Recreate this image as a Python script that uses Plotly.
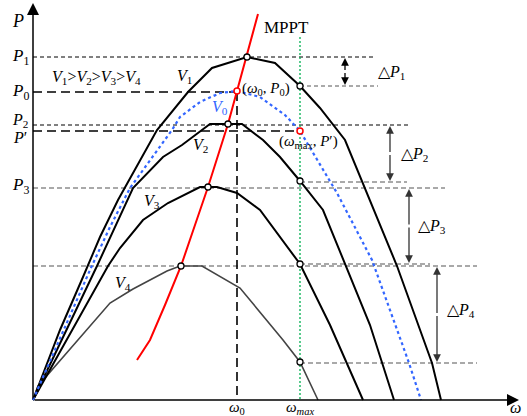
import plotly.graph_objects as go

# Coordinates: omega = horizontal position, power = vertical position (schematic units)
def W(px): return px - 33
def Pw(py): return 400 - py

# Curve vertices (schematic units)
v1_w = [W(x) for x in [33, 60, 83, 100, 118, 157, 188, 212, 247, 275, 300, 320, 345, 370, 397, 432, 441]]
v1_p = [Pw(y) for y in [400, 330, 277, 237, 200, 130, 92, 68, 57, 63, 86, 108, 140, 200, 266, 363, 400]]

v0_w = [W(x) for x in [33, 90, 110, 130, 172, 180, 200, 220, 237, 260, 285, 300, 337, 372, 409, 421]]
v0_p = [Pw(y) for y in [400, 270, 227, 188, 130, 117, 102, 93, 91, 97, 115, 131, 193, 260, 363, 400]]

v2_w = [W(x) for x in [33, 97, 133, 163, 182, 210, 242, 263, 280, 300, 323, 370, 394]]
v2_p = [Pw(y) for y in [400, 266, 188, 157, 145, 124, 124, 140, 157, 181, 210, 325, 400]]

v3_w = [W(x) for x in [33, 108, 120, 143, 168, 200, 217, 237, 260, 300, 330, 363]]
v3_p = [Pw(y) for y in [400, 266, 248, 220, 203, 187, 187, 193, 210, 264, 325, 400]]

v4_w = [W(x) for x in [33, 38, 110, 133, 167, 180, 202, 240, 283, 300, 318]]
v4_p = [Pw(y) for y in [400, 386, 303, 289, 271, 266, 266, 288, 340, 362, 400]]

mppt_w = [W(x) for x in [137, 150, 165, 181, 195, 208, 228, 237, 247, 258]]
mppt_p = [Pw(y) for y in [360, 340, 305, 266, 225, 187, 124, 91, 57, 14]]

peak_w = [W(x) for x in [247, 228, 208, 181]]
peak_p = [Pw(y) for y in [57, 124, 187, 266]]
wmax_pt_w = [W(x) for x in [300, 300, 300, 300]]
wmax_pt_p = [Pw(y) for y in [86, 181, 264, 362]]
red_w = [W(237), W(300)]
red_p = [Pw(91), Pw(131)]

w0 = W(237)
wmax = W(300)
P1, P0, P2, Pp, P3, P4 = Pw(57), Pw(92), Pw(125), Pw(131), Pw(188), Pw(266)

BLACK = "#000000"
GRAY = "#555555"
SERIF = "Liberation Serif, Times New Roman, serif"

fig = go.Figure()

def line(xs, ys, color, width, dash="solid"):
    fig.add_trace(go.Scatter(x=xs, y=ys, mode="lines", line=dict(color=color, width=width, dash=dash),
                             hoverinfo="skip", showlegend=False))

# Horizontal guide lines
line([0, W(375)], [P1, P1], BLACK, 1, "4px,3px")
line([wmax, W(378)], [Pw(86), Pw(86)], GRAY, 1, "4px,3px")
line([0, w0], [P0, P0], BLACK, 1.6, "9px,5px")
line([0, W(408)], [P2, P2], BLACK, 1, "4px,3px")
line([0, wmax], [Pp, Pp], BLACK, 1.6, "9px,5px")
line([wmax, W(407)], [Pw(182), Pw(182)], GRAY, 1, "5px,3px")
line([0, W(445)], [P3, P3], GRAY, 1.2, "5px,3px")
line([wmax, W(430)], [Pw(264), Pw(264)], GRAY, 1.2, "5px,3px")
line([0, W(477)], [P4, P4], GRAY, 1.2, "5px,3px")
line([wmax, W(477)], [Pw(363), Pw(363)], GRAY, 1.2, "5px,3px")

# Vertical guide lines
line([w0, w0], [P0, 0], BLACK, 1.6, "9px,5px")
line([wmax, wmax], [Pw(37), 0], "#00b050", 1.3, "2px,2px")

# Curves
line(v4_w, v4_p, "#444444", 1.6)
line(v3_w, v3_p, BLACK, 2)
line(v2_w, v2_p, BLACK, 2)
line(v1_w, v1_p, BLACK, 2)
line(v0_w, v0_p, "#3366ff", 2.2, "dot")
line(mppt_w, mppt_p, "#ff0000", 2)

# Markers
fig.add_trace(go.Scatter(x=peak_w + wmax_pt_w, y=peak_p + wmax_pt_p, mode="markers",
                         marker=dict(size=6, color="white", line=dict(color=BLACK, width=1.3)),
                         hoverinfo="skip", showlegend=False))
fig.add_trace(go.Scatter(x=red_w, y=red_p, mode="markers",
                         marker=dict(size=6, color="white", line=dict(color="#ff0000", width=1.5)),
                         hoverinfo="skip", showlegend=False))

ann = []
def txt(x, y, s, size=15, color=BLACK, xanchor="center"):
    ann.append(dict(x=x, y=y, xref="x", yref="y", text=s, showarrow=False,
                    font=dict(family=SERIF, size=size, color=color), xanchor=xanchor, yanchor="middle"))

def arrow(x, y0, y1, color=BLACK):
    # double-headed vertical arrow
    for a, b in [(y0, y1), (y1, y0)]:
        ann.append(dict(x=x, y=b, ax=x, ay=(a + b) / 2, xref="x", yref="y", axref="x", ayref="y",
                        text="", showarrow=True, arrowhead=2, arrowsize=1.2, arrowwidth=1.3,
                        arrowcolor=color, standoff=0, startstandoff=0, font=dict(size=10)))

# Axes with arrows
ann.append(dict(x=W(519), y=0, ax=W(33), ay=0, xref="x", yref="y", axref="x", ayref="y", text="",
                showarrow=True, arrowhead=2, arrowsize=1.6, arrowwidth=1.5, arrowcolor=BLACK, font=dict(size=10)))
ann.append(dict(x=0, y=Pw(3), ax=0, ay=0, xref="x", yref="y", axref="x", ayref="y", text="",
                showarrow=True, arrowhead=2, arrowsize=1.6, arrowwidth=1.5, arrowcolor=BLACK, font=dict(size=10)))

arrow(W(345), Pw(58), Pw(85))
arrow(W(390), Pw(126), Pw(181), "#333333")
arrow(W(409), Pw(189), Pw(263), "#333333")
arrow(W(437), Pw(267), Pw(362), "#333333")

# Axis tick labels
txt(W(18), Pw(21), "<i>P</i>", 18)
txt(W(20), P1, "<i>P</i><sub>1</sub>", 17)
txt(W(20), P0, "<i>P</i><sub>0</sub>", 17)
txt(W(20), Pw(120), "<i>P</i><sub>2</sub>", 16)
txt(W(20), Pw(137), "<i>P</i>′", 16)
txt(W(20), Pw(186), "<i>P</i><sub>3</sub>", 17)
txt(w0, Pw(408), "<i>ω</i><sub>0</sub>", 15)
txt(wmax, Pw(408), "<i>ω</i><sub><i>max</i></sub>", 15)
txt(W(515), Pw(407), "<i>ω</i>", 16)

# Curve labels
txt(W(96), Pw(77), "<i>V</i><sub>1</sub>><i>V</i><sub>2</sub>><i>V</i><sub>3</sub>><i>V</i><sub>4</sub>", 16)
txt(W(184), Pw(76), "<i>V</i><sub>1</sub>", 16)
txt(W(220), Pw(107), "<i>V</i><sub>0</sub>", 16, "#3366ff")
txt(W(200), Pw(145), "<i>V</i><sub>2</sub>", 16)
txt(W(152), Pw(201), "<i>V</i><sub>3</sub>", 16)
txt(W(123), Pw(283), "<i>V</i><sub>4</sub>", 16)
txt(W(286), Pw(27), "MPPT", 17)
txt(W(266), Pw(89), "(<i>ω</i><sub>0</sub>, <i>P</i><sub>0</sub>)", 15)
txt(W(308), Pw(142), "(<i>ω</i><sub>max</sub>, <i>P</i>′)", 15)

# Delta labels
txt(W(391), Pw(72), "△<i>P</i><sub>1</sub>", 16)
txt(W(414), Pw(154), "△<i>P</i><sub>2</sub>", 16)
txt(W(432), Pw(226), "△<i>P</i><sub>3</sub>", 16)
txt(W(461), Pw(310), "△<i>P</i><sub>4</sub>", 16)

fig.update_layout(
    width=527, height=416, margin=dict(l=0, r=0, t=0, b=0),
    paper_bgcolor="white", plot_bgcolor="white",
    xaxis=dict(range=[-33, 494], visible=False, fixedrange=True),
    yaxis=dict(range=[-16, 400], visible=False, fixedrange=True),
    annotations=ann, showlegend=False,
)
fig.write_html("out.html", config={"displayModeBar": False},
               post_script="document.body.style.margin='0';document.body.style.overflow='hidden';")
